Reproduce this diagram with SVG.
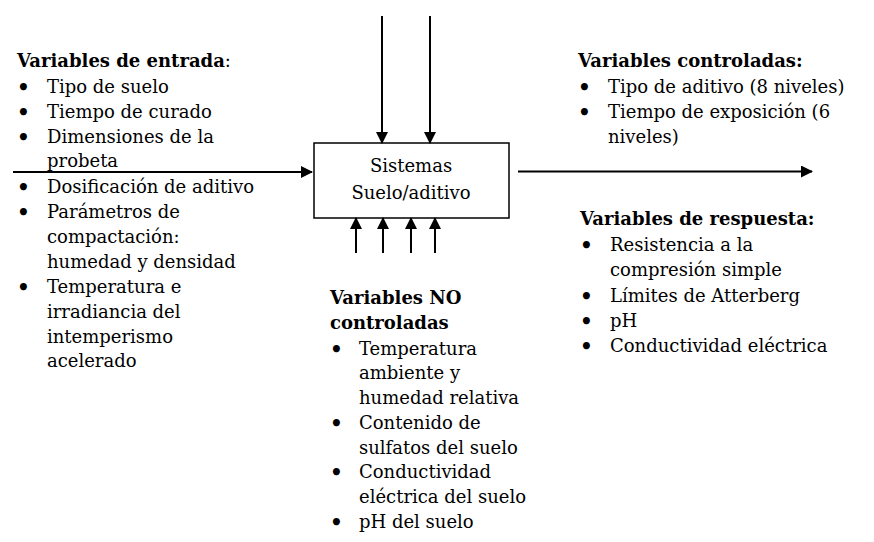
<svg xmlns="http://www.w3.org/2000/svg" width="874" height="542" viewBox="0 0 874 542">
<style>
text{font-family:"DejaVu Serif",serif;font-size:18px;fill:#000}
.t{font-weight:bold}
.b{font-size:20px;font-weight:bold}
.box{fill:#fff;stroke:#000;stroke-width:1.5}
.c line{stroke:#000;stroke-width:2}
.bt{font-size:18px}
</style>
<defs>
<marker id="ah" markerUnits="userSpaceOnUse" markerWidth="12" markerHeight="12" refX="11" refY="6" orient="auto">
<path d="M0,0 L12,6 L0,12 Z" fill="#000"/>
</marker>
</defs>
<rect width="874" height="542" fill="#fff"/>
<g id="sistema">
<rect class="box" x="314" y="143" width="195" height="75"/>
<text class="bt" x="411" y="172" text-anchor="middle">Sistemas</text>
<text class="bt" x="411" y="199" text-anchor="middle">Suelo/aditivo</text>
</g>
<g class="c" id="connectors">
<line x1="13" y1="172" x2="312" y2="172" marker-end="url(#ah)"/>
<line x1="518" y1="171.5" x2="812" y2="171.5" marker-end="url(#ah)"/>
<line x1="382" y1="16" x2="382" y2="143" marker-end="url(#ah)"/>
<line x1="430" y1="16" x2="430" y2="143" marker-end="url(#ah)"/>
<line x1="356" y1="253" x2="356" y2="218" marker-end="url(#ah)"/>
<line x1="383" y1="253" x2="383" y2="218" marker-end="url(#ah)"/>
<line x1="411" y1="253" x2="411" y2="218" marker-end="url(#ah)"/>
<line x1="435" y1="253" x2="435" y2="218" marker-end="url(#ah)"/>
</g>
<g id="entrada">
<text class="t" x="17" y="67">Variables de entrada<tspan font-weight="normal">:</tspan></text>
<text class="b" x="17" y="94">•</text><text x="47" y="93">Tipo de suelo</text>
<text class="b" x="17" y="119">•</text><text x="47" y="118">Tiempo de curado</text>
<text class="b" x="17" y="144">•</text><text x="47" y="143">Dimensiones de la</text>
<text x="47" y="167">probeta</text>
<text class="b" x="17" y="194">•</text><text x="47" y="193">Dosificación de aditivo</text>
<text class="b" x="17" y="219">•</text><text x="47" y="218">Parámetros de</text>
<text x="47" y="243">compactación:</text>
<text x="47" y="268">humedad y densidad</text>
<text class="b" x="17" y="294">•</text><text x="47" y="293">Temperatura e</text>
<text x="47" y="318">irradiancia del</text>
<text x="47" y="343">intemperismo</text>
<text x="47" y="367">acelerado</text>
</g>
<g id="controladas">
<text class="t" x="578" y="67">Variables controladas:</text>
<text class="b" x="578" y="94">•</text><text x="608" y="93">Tipo de aditivo (8 niveles)</text>
<text class="b" x="578" y="119">•</text><text x="608" y="118">Tiempo de exposición (6</text>
<text x="608" y="143">niveles)</text>
</g>
<g id="respuesta">
<text class="t" x="580" y="225">Variables de respuesta:</text>
<text class="b" x="580" y="252">•</text><text x="610" y="251">Resistencia a la</text>
<text x="610" y="276">compresión simple</text>
<text class="b" x="580" y="303">•</text><text x="610" y="302">Límites de Atterberg</text>
<text class="b" x="580" y="328">•</text><text x="610" y="327">pH</text>
<text class="b" x="580" y="353">•</text><text x="610" y="352">Conductividad eléctrica</text>
</g>
<g id="no-controladas">
<text class="t" x="330" y="304">Variables NO</text>
<text class="t" x="330" y="329">controladas</text>
<text class="b" x="330" y="356">•</text><text x="359" y="355">Temperatura</text>
<text x="359" y="379">ambiente y</text>
<text x="359" y="404">humedad relativa</text>
<text class="b" x="330" y="430">•</text><text x="359" y="429">Contenido de</text>
<text x="359" y="454">sulfatos del suelo</text>
<text class="b" x="330" y="479">•</text><text x="359" y="478">Conductividad</text>
<text x="359" y="503">eléctrica del suelo</text>
<text class="b" x="330" y="529">•</text><text x="359" y="528">pH del suelo</text>
</g>
</svg>
